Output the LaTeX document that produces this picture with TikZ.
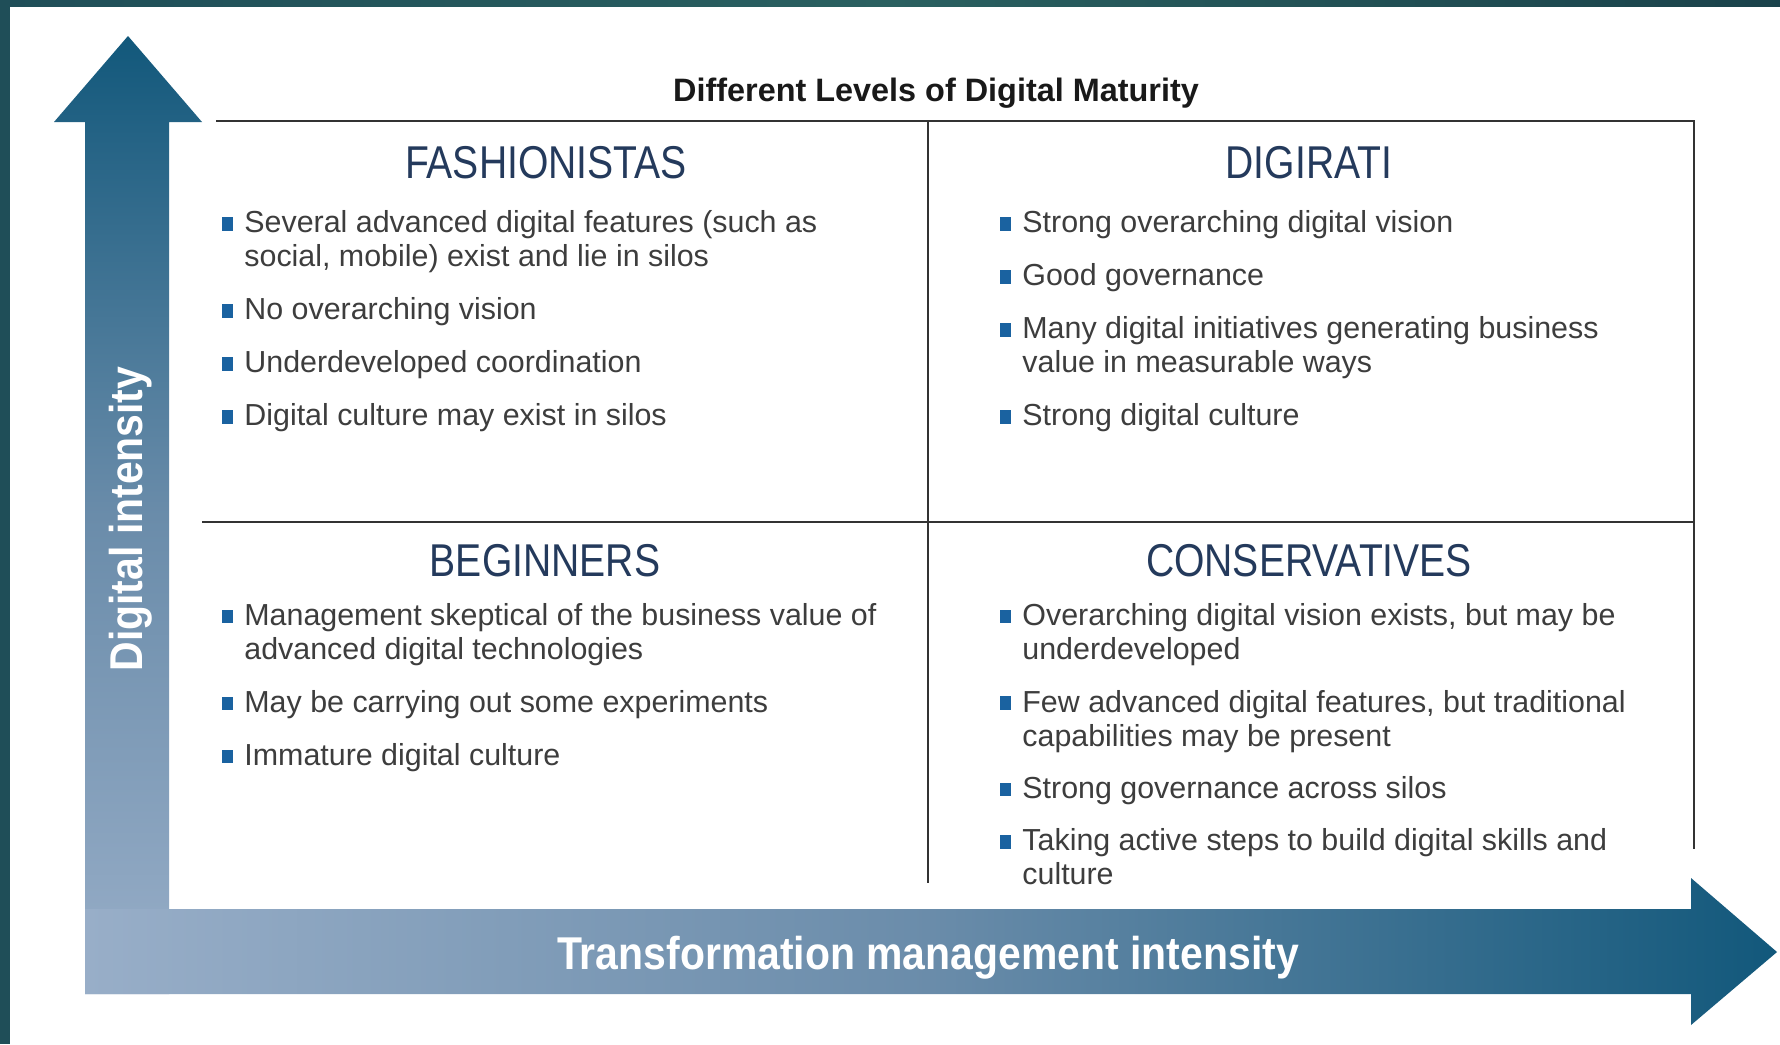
\documentclass[tikz,border=0pt]{standalone}
\usepackage{fontspec}
\setmainfont{Liberation Sans}
\newfontfamily\headfont[FakeStretch=0.85]{Liberation Sans}
\newfontfamily\axisfont[FakeStretch=0.89]{Liberation Sans}
\usetikzlibrary{positioning, calc}

\definecolor{framebar}{HTML}{1F4E58}
\definecolor{framebarmid}{HTML}{2A6060}
\definecolor{arrowdark}{HTML}{12587B}
\definecolor{arrowmid}{HTML}{6A8CAA}
\definecolor{arrowlight}{HTML}{98AEC8}
\definecolor{gridgray}{HTML}{333333}
\definecolor{bodygray}{HTML}{3D3D3D}
\definecolor{headnavy}{HTML}{243A5C}
\definecolor{bulletblue}{HTML}{1A62A0}

% square bullet hanging left of the text (strut fixes the first line's height)
\newcommand{\sqb}{\strut\llap{\textcolor{bulletblue}{\rule[1.2pt]{5.5pt}{6.8pt}}\hspace{5.5pt}}}

\begin{document}
\begin{tikzpicture}[x=0.5pt, y=-0.5pt]

	% Define styles
	\tikzstyle{gridline} = [draw=gridgray, line width=1.2pt]
	\tikzstyle{quadhead} = [anchor=base, inner sep=0pt, text=headnavy, font=\headfont\fontsize{23}{27}\selectfont]
	\tikzstyle{bodytext} = [anchor=north west, inner sep=0pt, align=left, text=bodygray, font=\fontsize{15.2}{17}\selectfont]
	\tikzstyle{axislabel} = [anchor=base, inner sep=0pt, text=white, font=\axisfont\bfseries\fontsize{23}{27}\selectfont]

	\useasboundingbox (0,0) rectangle (1780,1044);
	\fill[white] (0,0) rectangle (1780,1044);

	% Frame
	\fill[framebar] (0,0) rectangle (10,1044);
	\shade[left color=framebar, right color=framebar!85!black, middle color=framebarmid] (0,0) rectangle (1780,6);

	% Axis arrows
	\shade[top color=arrowdark, bottom color=arrowlight, middle color=arrowmid]
		(128,36) -- (202,122) -- (169,122) -- (169,994) -- (85,994) -- (85,122) -- (54,122) -- cycle;
	\shade[left color=arrowlight, right color=arrowdark, middle color=arrowmid]
		(85,909) -- (1691,909) -- (1691,878) -- (1777,952) -- (1691,1025) -- (1691,994) -- (85,994) -- cycle;

	% Grid
	\coordinate (topleft) at (216,121);
	\coordinate (topright) at (1694,121);
	\coordinate (rightend) at (1694,849);
	\coordinate (midleft) at (202,522);
	\coordinate (midright) at (1694,522);
	\coordinate (divtop) at (928,121);
	\coordinate (divbottom) at (928,883);
	\draw[gridline] (topleft) -- (topright) -- (rightend);
	\draw[gridline] (midleft) -- (midright);
	\draw[gridline] (divtop) -- (divbottom);

	% Title
	\node[anchor=base, inner sep=0pt, text=black!90, font=\bfseries\fontsize{16.2}{19}\selectfont] (title) at (936,101) {Different Levels of Digital Maturity};

	% Quadrant headings
	\node[quadhead] (fashhead) at (546,178) {FASHIONISTAS};
	\node[quadhead] (digihead) at (1309,178) {DIGIRATI};
	\node[quadhead] (beginhead) at (545,576) {BEGINNERS};
	\node[quadhead] (conshead) at (1309,576) {CONSERVATIVES};

	% Quadrant bullets (top of first line = baseline - 23.8)
	\node[bodytext] (fashlist) at (244,208.7) {\sqb Several advanced digital features (such as\\ social, mobile) exist and lie in silos\\[9.5pt]
		\sqb No overarching vision\\[9.5pt] \sqb Underdeveloped coordination\\[9.5pt] \sqb Digital culture may exist in silos};
	\node[bodytext] (digilist) at (1022,208.7) {\sqb Strong overarching digital vision\\[9.5pt] \sqb Good governance\\[9.5pt]
		\sqb Many digital initiatives generating business\\ value in measurable ways\\[9.5pt] \sqb Strong digital culture};
	\node[bodytext] (beginlist) at (244,601.5) {\sqb Management skeptical of the business value of\\ advanced digital technologies\\[9.5pt]
		\sqb May be carrying out some experiments\\[9.5pt] \sqb Immature digital culture};
	\node[bodytext] (conslist) at (1022,601.5) {\sqb Overarching digital vision exists, but may be\\ underdeveloped\\[9.2pt]
		\sqb Few advanced digital features, but traditional\\ capabilities may be present\\[9.2pt]
		\sqb Strong governance across silos\\[9.2pt] \sqb Taking active steps to build digital skills and\\ culture};

	% Axis labels
	\node[axislabel, rotate=90] (ylabel) at (142,519) {Digital intensity};
	\node[axislabel] (xlabel) at (928,969) {Transformation management intensity};

\end{tikzpicture}
\end{document}
